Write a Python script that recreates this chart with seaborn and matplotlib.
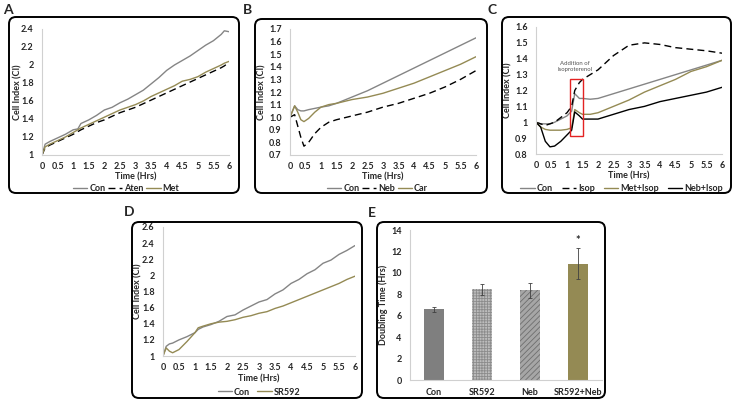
import numpy as np
import pandas as pd
import matplotlib
matplotlib.use("Agg")
import matplotlib.pyplot as plt
import seaborn as sns
from matplotlib.patches import FancyBboxPatch, Rectangle
from matplotlib.ticker import FuncFormatter, MultipleLocator

# ---------------- data ----------------
# Panel A
a_time = [0, 0.1, 0.25, 0.5, 0.75, 1.0, 1.15, 1.25, 1.5, 1.75, 2.0, 2.25, 2.5, 2.75,
          3.0, 3.25, 3.5, 3.75, 4.0, 4.25, 4.5, 4.75, 5.0, 5.25, 5.5, 5.75, 5.85, 6.0]
a_con = [1.0, 1.12, 1.15, 1.19, 1.23, 1.28, 1.29, 1.35, 1.39, 1.44, 1.50, 1.53, 1.58, 1.62,
         1.67, 1.72, 1.79, 1.86, 1.94, 2.00, 2.05, 2.10, 2.16, 2.22, 2.27, 2.34, 2.38, 2.37]
a_aten = [1.0, 1.08, 1.11, 1.15, 1.19, 1.23, 1.26, 1.28, 1.32, 1.36, 1.39, 1.43, 1.47, 1.50,
          1.53, 1.57, 1.61, 1.65, 1.69, 1.73, 1.77, 1.81, 1.85, 1.89, 1.93, 1.97, 1.99, 2.03]
a_met = [1.0, 1.09, 1.12, 1.16, 1.20, 1.25, 1.28, 1.30, 1.34, 1.38, 1.42, 1.46, 1.50, 1.53,
         1.56, 1.60, 1.65, 1.69, 1.73, 1.77, 1.82, 1.84, 1.87, 1.92, 1.96, 2.00, 2.02, 2.04]

# Panel B
b_time = [0, 0.15, 0.25, 0.35, 0.45, 0.6, 0.8, 1.0, 1.25, 1.5, 2, 2.5, 3, 3.5, 4, 4.5, 5, 5.5, 6]
b_con = [1.0, 1.09, 1.06, 1.05, 1.05, 1.06, 1.07, 1.08, 1.09, 1.11, 1.16, 1.21, 1.27,
         1.33, 1.39, 1.45, 1.51, 1.57, 1.63]
b_neb = [1.0, 1.02, 0.93, 0.84, 0.77, 0.80, 0.87, 0.92, 0.96, 0.98, 1.01, 1.04, 1.08,
         1.11, 1.15, 1.19, 1.24, 1.30, 1.37]
b_car = [1.0, 1.09, 1.04, 0.98, 0.965, 0.99, 1.04, 1.08, 1.10, 1.11, 1.14, 1.16, 1.19,
         1.23, 1.27, 1.32, 1.37, 1.42, 1.48]

# Panel C
c_time = [0, 0.15, 0.3, 0.45, 0.6, 0.8, 1.0, 1.15, 1.25, 1.4, 1.5, 1.75, 2, 2.5, 3, 3.5,
          4, 4.5, 5, 5.5, 6]
c_con = [1.0, 0.99, 0.99, 0.99, 1.0, 1.02, 1.04, 1.07, 1.18, 1.15, 1.15, 1.145, 1.15,
         1.18, 1.21, 1.24, 1.27, 1.30, 1.33, 1.36, 1.39]
c_isop = [1.0, 0.99, 0.98, 0.99, 1.0, 1.03, 1.06, 1.10, 1.20, 1.25, 1.27, 1.30, 1.33,
          1.42, 1.485, 1.50, 1.49, 1.47, 1.46, 1.45, 1.435]
c_met_isop = [1.0, 0.97, 0.955, 0.95, 0.95, 0.95, 0.955, 0.965, 1.08, 1.06, 1.05, 1.05,
              1.06, 1.10, 1.14, 1.19, 1.23, 1.27, 1.32, 1.35, 1.39]
c_neb_isop = [1.0, 0.97, 0.88, 0.845, 0.85, 0.88, 0.92, 0.95, 1.065, 1.04, 1.02, 1.02,
              1.02, 1.05, 1.08, 1.10, 1.13, 1.15, 1.17, 1.19, 1.22]

# Panel D
d_time = [0, 0.1, 0.2, 0.3, 0.5, 0.75, 1.0, 1.1, 1.25, 1.5, 1.75, 2.0, 2.25, 2.5, 2.75,
          3.0, 3.25, 3.5, 3.75, 4.0, 4.25, 4.5, 4.75, 5.0, 5.25, 5.5, 5.75, 6.0]
d_con = [1.0, 1.12, 1.15, 1.16, 1.20, 1.24, 1.29, 1.33, 1.36, 1.39, 1.43, 1.49, 1.51,
         1.57, 1.62, 1.67, 1.70, 1.77, 1.82, 1.90, 1.95, 2.02, 2.07, 2.15, 2.19, 2.26,
         2.31, 2.37]
d_sr592 = [1.0, 1.10, 1.06, 1.04, 1.08, 1.18, 1.29, 1.35, 1.37, 1.40, 1.42, 1.43, 1.45,
           1.48, 1.50, 1.53, 1.55, 1.59, 1.62, 1.66, 1.70, 1.74, 1.78, 1.82, 1.86, 1.90,
           1.95, 1.99]

# Panel E
e_groups = ["Con", "SR592", "Neb", "SR592+Neb"]
e_means = [6.6, 8.45, 8.4, 10.85]
e_errs = [0.25, 0.55, 0.7, 1.45]

# ---------------- style ----------------
sns.set_style("white")
plt.rcParams["font.family"] = ["Lato", "DejaVu Sans"]
plt.rcParams["hatch.linewidth"] = 0.6

GRAY = "#858585"
OLIVE = "#948a54"
BLACK = "#000000"
DASH = (0, (5, 3))
FS = 6.5

W, H = 733, 401
fig = plt.figure(figsize=(W / 100, H / 100), dpi=100)


def px_axes(x0, y0, x1, y1):
    return fig.add_axes([x0 / W, 1 - y1 / H, (x1 - x0) / W, (y1 - y0) / H])


def box(x0, y0, x1, y1):
    p = FancyBboxPatch((x0 / 100, (H - y1) / 100), (x1 - x0) / 100, (y1 - y0) / 100,
                       boxstyle="round,pad=0,rounding_size=0.07",
                       transform=fig.dpi_scale_trans, fill=False,
                       edgecolor="black", linewidth=1.4)
    fig.patches.append(p)


def style_axes(ax, ylab_x, ylab):
    for s in ["top", "right"]:
        ax.spines[s].set_visible(False)
    for s in ["left", "bottom"]:
        ax.spines[s].set_color("#d0d0d0")
        ax.spines[s].set_linewidth(0.8)
    ax.tick_params(length=0, labelsize=FS)
    ax.tick_params(axis="y", pad=6)
    ax.tick_params(axis="x", pad=5)
    for t in ax.get_xticklabels() + ax.get_yticklabels():
        t.set_fontweight("bold")
    ax.set_ylabel(ylab, fontsize=FS, fontweight="bold")
    ax.yaxis.set_label_coords(ylab_x, 0.5)


def line_panel(ax, time, series, ylim, ystep, yfmt, ylab_x, ylab, leg_y, leg_x, colsp):
    for label, vals, color, ls in series:
        df = pd.DataFrame({"Time": time, "CI": vals})
        sns.lineplot(data=df, x="Time", y="CI", ax=ax, color=color, linestyle=ls,
                     linewidth=1.0, label=label, legend=False)
    ax.set_xlim(0, 6)
    ax.set_ylim(*ylim)
    ax.xaxis.set_major_locator(MultipleLocator(0.5))
    ax.yaxis.set_major_locator(MultipleLocator(ystep))
    ax.xaxis.set_major_formatter(FuncFormatter(lambda v, p: f"{v:g}"))
    ax.yaxis.set_major_formatter(FuncFormatter(yfmt))
    style_axes(ax, ylab_x, ylab)
    ax.set_xlabel("Time (Hrs)", fontsize=FS, fontweight="bold")
    ax.xaxis.set_label_coords(0.5, -0.14)
    ax.legend(loc="center", bbox_to_anchor=(leg_x, leg_y), ncol=len(series),
              frameon=False, fontsize=FS, handlelength=1.6, handletextpad=0.2,
              columnspacing=colsp, borderpad=0)
    for t in ax.get_legend().get_texts():
        t.set_fontweight("bold")


g_fmt = lambda v, p: f"{v:g}"
one_fmt = lambda v, p: f"{v:.1f}"

# boxes
box(9, 17, 239, 193)
box(255, 19, 487, 193)
box(502, 17, 731, 193)
box(132, 222, 362, 398)
box(377, 222, 605, 398)

# panel letters
for lab, x, y in [("A", 3, 10), ("B", 243, 10), ("C", 487, 10), ("D", 124, 212), ("E", 368, 213)]:
    fig.text(x / W, 1 - y / H, lab, fontsize=10, fontweight="bold", va="center", ha="left")

# A
axA = px_axes(42, 29, 229, 155)
line_panel(axA, a_time, [("Con", a_con, GRAY, "-"), ("Aten", a_aten, BLACK, DASH),
                         ("Met", a_met, OLIVE, "-")],
           (1, 2.4), 0.2, g_fmt, -0.107, "Cell Index (CI)", -0.265, 0.45, 0.3)

# B
axB = px_axes(290, 29, 476, 155)
line_panel(axB, b_time, [("Con", b_con, GRAY, "-"), ("Neb", b_neb, BLACK, DASH),
                         ("Car", b_car, OLIVE, "-")],
           (0.7, 1.7), 0.1, one_fmt, -0.124, "Cell Index (CI)", -0.265, 0.47, 0.3)

# C
axC = px_axes(536, 27, 722, 154)
line_panel(axC, c_time, [("Con", c_con, GRAY, "-"), ("Isop", c_isop, BLACK, DASH),
                         ("Met+Isop", c_met_isop, OLIVE, "-"),
                         ("Neb+Isop", c_neb_isop, BLACK, "-")],
           (0.8, 1.6), 0.1, g_fmt, -0.124, "Cell Index (CI)", -0.27, 0.46, 1.0)
axC.add_patch(Rectangle((1.1, 0.915), 0.42, 0.355, fill=False, edgecolor="#e32222",
                        linewidth=1.0, zorder=5))
axC.text(1.27, 1.35, "Addition of\nIsoproterenol", fontsize=4.3, color="#555555",
         ha="center", va="center", linespacing=1.4)

# D
axD = px_axes(163, 227, 355, 356)
line_panel(axD, d_time, [("Con", d_con, GRAY, "-"), ("SR592", d_sr592, OLIVE, "-")],
           (1, 2.6), 0.2, g_fmt, -0.109, "Cell Index (CI)", -0.28, 0.5, 0.8)

# E
axE = px_axes(410, 230, 602, 380)
dfE = pd.DataFrame({"Group": e_groups, "Doubling": e_means})
sns.barplot(data=dfE, x="Group", y="Doubling", ax=axE, errorbar=None, width=0.42,
            color=GRAY)
bar_face = ["#7f7f7f", "#bdbdbd", "#a6a6a6", OLIVE]
bar_hatch = [None, "++++++", "//////", None]
bar_hcol = ["#7f7f7f", "#8c8c8c", "#6e6e6e", OLIVE]
for patch, fc, hc, hh in zip(axE.patches, bar_face, bar_hcol, bar_hatch):
    patch.set_facecolor(fc)
    patch.set_edgecolor(hc)
    patch.set_linewidth(0)
    if hh:
        patch.set_hatch(hh)
axE.errorbar(x=range(len(e_groups)), y=e_means, yerr=e_errs, fmt="none",
             ecolor="#404040", elinewidth=0.6, capsize=1.5, capthick=0.6)
axE.text(3, e_means[3] + e_errs[3] + 0.25, "*", ha="center", va="bottom",
         fontsize=8, fontweight="bold")
axE.set_xlim(-0.5, 3.5)
axE.set_ylim(0, 14)
axE.yaxis.set_major_locator(MultipleLocator(2))
axE.set_xlabel("")
style_axes(axE, -0.112, "Doubling Time (Hrs)")
axE.tick_params(axis="y", pad=6)
axE.tick_params(axis="x", pad=6)
for t in axE.get_xticklabels():
    t.set_fontweight("bold")

fig.savefig("out.png", dpi=100)
